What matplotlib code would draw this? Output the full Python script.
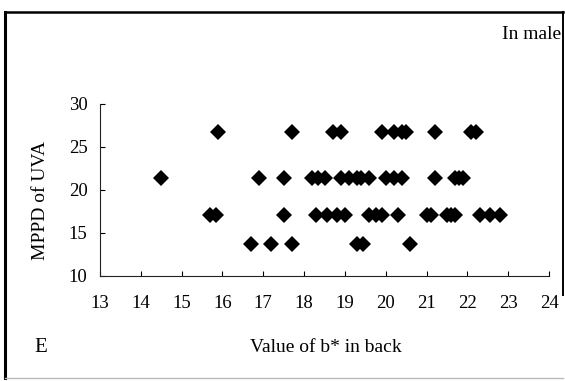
import matplotlib
matplotlib.use("Agg")
import matplotlib.pyplot as plt
from matplotlib.lines import Line2D

plt.rcParams['font.family'] = ['Liberation Serif', 'DejaVu Serif']

# MPPD dose levels (each step x1.25)
dose_levels = [13.65, 17.06, 21.33, 26.67]

# b* values in back for each MPPD level
b_at_13 = [16.7, 17.2, 17.7, 19.3, 19.45, 20.6]
b_at_17 = [15.7, 15.85, 17.5, 18.3, 18.55, 18.8, 19.0, 19.6, 19.75, 19.9,
           20.3, 21.0, 21.1, 21.5, 21.6, 21.7, 22.3, 22.55, 22.8]
b_at_21 = [14.5, 16.9, 17.5, 18.2, 18.35, 18.5, 18.9, 19.1, 19.3, 19.4,
           19.6, 20.0, 20.2, 20.4, 21.2, 21.7, 21.8, 21.9]
b_at_27 = [15.9, 17.7, 18.7, 18.9, 19.9, 20.2, 20.4, 20.5, 21.2, 22.1, 22.2]

x_ticks = list(range(13, 25))
y_ticks = [10, 15, 20, 25, 30]

fig = plt.figure(figsize=(5.65, 3.81), dpi=100)
ax = fig.add_axes([0.177, 0.2764, 0.7947, 0.4514])

for level, xs in zip(dose_levels, [b_at_13, b_at_17, b_at_21, b_at_27]):
    ax.plot(xs, [level] * len(xs), linestyle='none', marker='D',
            markersize=8.2, color='black', markeredgewidth=0)

ax.set_xlim(13, 24)
ax.set_ylim(10, 30)
ax.set_xticks(x_ticks)
ax.set_yticks(y_ticks)
ax.tick_params(axis='both', direction='in', length=3.5, width=0.8,
               labelsize=13.5)
ax.tick_params(axis='x', pad=14)
ax.tick_params(axis='y', pad=9)
for side in ['top', 'right']:
    ax.spines[side].set_visible(False)
for side in ['left', 'bottom']:
    ax.spines[side].set_linewidth(0.8)
    ax.spines[side].set_color('#222222')

fig.text(0.071, 0.475, 'MPPD of UVA', rotation=90, ha='center',
         va='center', fontsize=14)
fig.text(0.577, 0.089, 'Value of b* in back', ha='center', va='center',
         fontsize=14)
fig.text(0.072, 0.089, 'E', ha='center', va='center', fontsize=15)
fig.text(0.993, 0.91, 'In male', ha='right', va='center', fontsize=14)

# outer frame around the panel
W, H = 565.0, 381.0
frame = [((5, 5), (12, 378), 2.2, 'black'),
         ((5, 563), (12, 12), 1.8, 'black'),
         ((563, 563), (12, 295), 1.4, 'black'),
         ((5, 563), (378, 378), 1.0, '#bbbbbb')]
for xs, ys, lw, col in frame:
    fig.add_artist(Line2D([x / W for x in xs], [1 - y / H for y in ys],
                          transform=fig.transFigure, lw=lw, color=col))

fig.savefig('out.png', dpi=100)
